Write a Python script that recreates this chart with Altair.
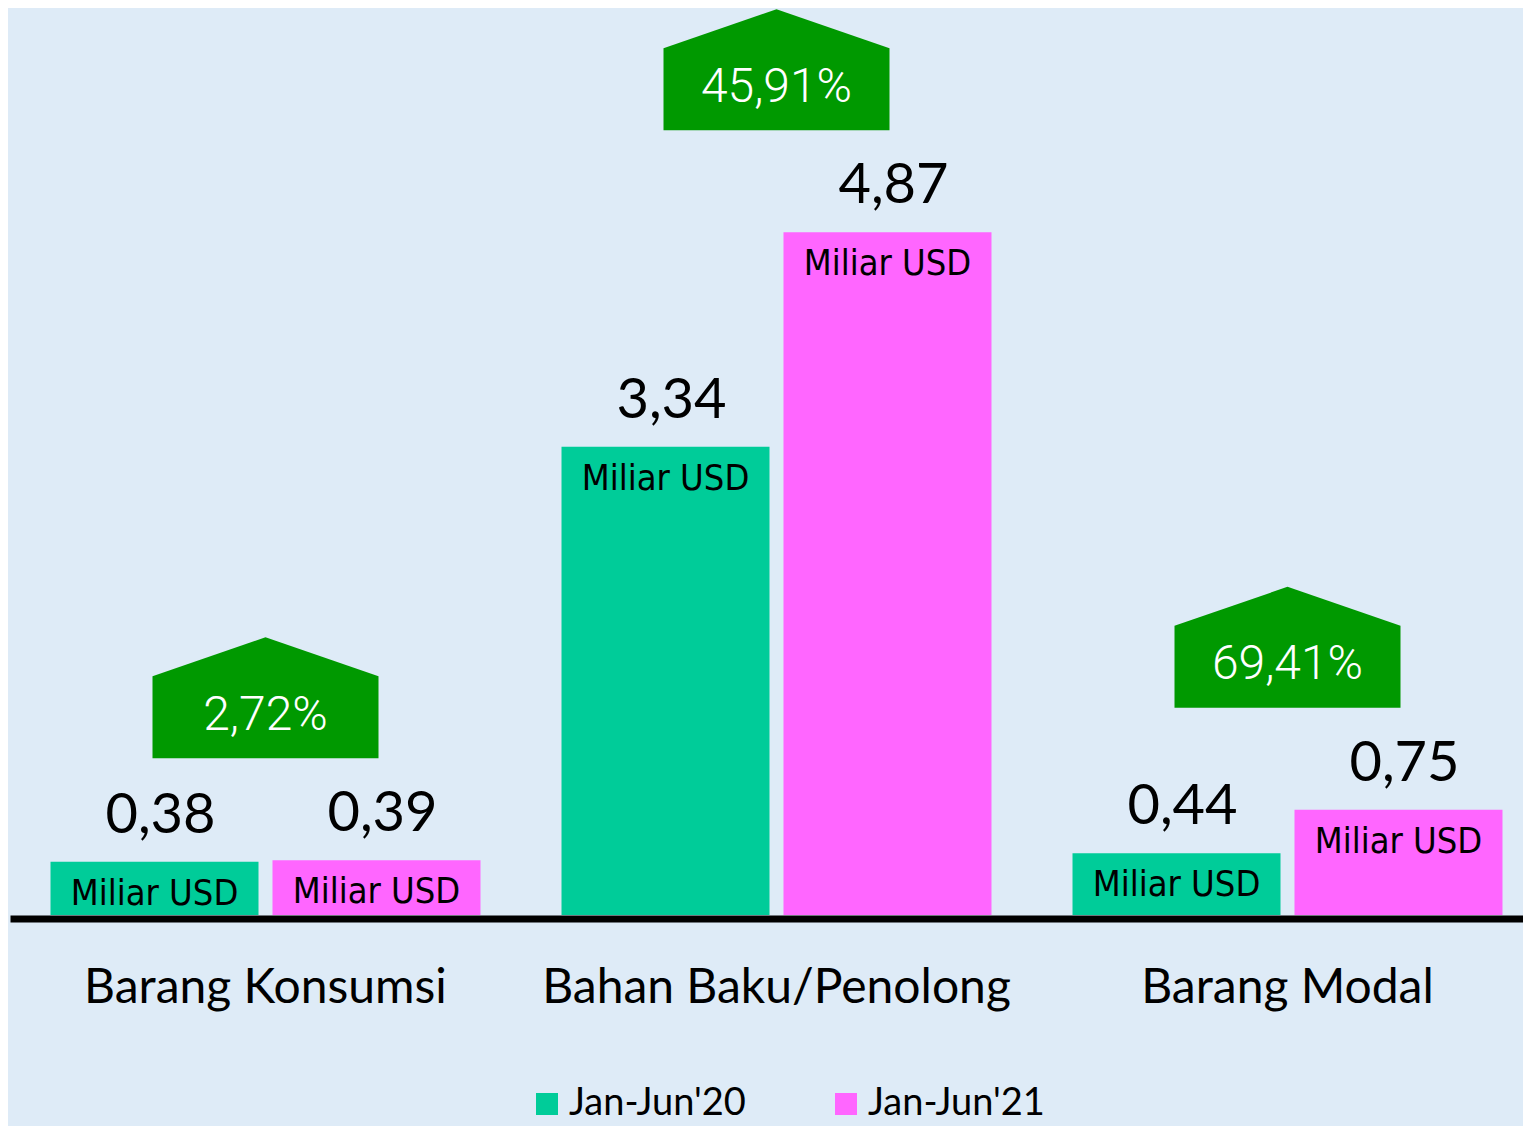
import altair as alt
import pandas as pd

categories = ["Barang Konsumsi", "Bahan Baku/Penolong", "Barang Modal"]
periods = ["Jan-Jun'20", "Jan-Jun'21"]
values_20 = [0.38, 3.34, 0.44]
values_21 = [0.39, 4.87, 0.75]
growth_labels = ["2,72%", "45,91%", "69,41%"]
unit_label = "Miliar USD"
colors = ["#00CC99", "#FF66FF"]


def fmt(v):
    return f"{v:.2f}".replace(".", ",")


rows = []
for c, a, b in zip(categories, values_20, values_21):
    rows.append({"category": c, "period": periods[0], "value": a, "label": fmt(a), "unit": unit_label})
    rows.append({"category": c, "period": periods[1], "value": b, "label": fmt(b), "unit": unit_label})
df = pd.DataFrame(rows)

badge_df = pd.DataFrame({
    "category": categories,
    "growth": growth_labels,
    "top": [max(a, b) for a, b in zip(values_20, values_21)],
})

x_scale = alt.Scale(domain=categories, range=[2, 1535], paddingInner=0, paddingOuter=0)
y_scale = alt.Scale(domain=[0, 6.47], nice=False, zero=True)
x_axis = alt.Axis(
    title=None, labelAngle=0, ticks=False, tickSize=0, domain=True, domainColor="black",
    domainWidth=7, offset=3.5, labelFont="Lato", labelFontSize=48, labelColor="black",
    labelPadding=83.5, labelBaseline="alphabetic", labelLimit=600, grid=False,
)
X = alt.X("category:N", scale=x_scale, axis=x_axis, sort=categories)
XO = alt.XOffset("period:N", sort=periods,
                 scale=alt.Scale(domain=periods, paddingInner=0.063, paddingOuter=0.1825))
Y = alt.Y("value:Q", scale=y_scale, axis=None)

base = alt.Chart(df)

bars = base.mark_bar(opacity=1).encode(
    x=X, xOffset=XO, y=Y,
    color=alt.Color(
        "period:N", sort=periods,
        scale=alt.Scale(domain=periods, range=colors),
        legend=alt.Legend(
            orient="none", legendX=520, legendY=1077, direction="horizontal", columns=2,
            title=None, symbolType="square", symbolSize=484, symbolStrokeWidth=0,
            symbolOpacity=1, labelFont="Lato", labelFontSize=38, labelColor="black",
            labelOffset=3, columnPadding=81, padding=0, labelLimit=400,
        ),
    ),
)

value_text = base.mark_text(
    font="Lato", fontSize=56, color="black", baseline="alphabetic", dy=-29, dx=6
).encode(x=X, xOffset=XO, y=Y, text="label:N")

unit_text = base.mark_text(
    font="Liberation Sans Narrow, DejaVu Sans Condensed, Roboto, sans-serif",
    fontSize=36, color="black", baseline="alphabetic", dy=43
).encode(x=X, xOffset=XO, y=Y, text="unit:N")

badge_path = "M-1,-0.19L0,-0.535L1,-0.19L1,0.535L-1,0.535Z"
badge_base = alt.Chart(badge_df).transform_calculate(badge_y="datum.top + 1.16")

badges = badge_base.mark_point(
    shape=badge_path, filled=True, size=226 * 226, color="#009900", opacity=1, strokeWidth=0
).encode(x=X, y=alt.Y("badge_y:Q", scale=y_scale, axis=None))

badge_text = badge_base.mark_text(
    font="Roboto", fontWeight=300, fontSize=48, color="white", baseline="alphabetic", dy=32
).encode(x=X, y=alt.Y("badge_y:Q", scale=y_scale, axis=None), text="growth:N")

chart = alt.layer(bars, value_text, unit_text, badges, badge_text).properties(
    width=1515, height=907,
    padding={"left": 0, "top": 0, "right": 0, "bottom": 211},
    autosize=alt.AutoSizeParams(type="none"),
).configure(background="#DEEBF7").configure_view(stroke=None)

chart.save("out.html", embed_options={"renderer": "svg", "actions": False})
